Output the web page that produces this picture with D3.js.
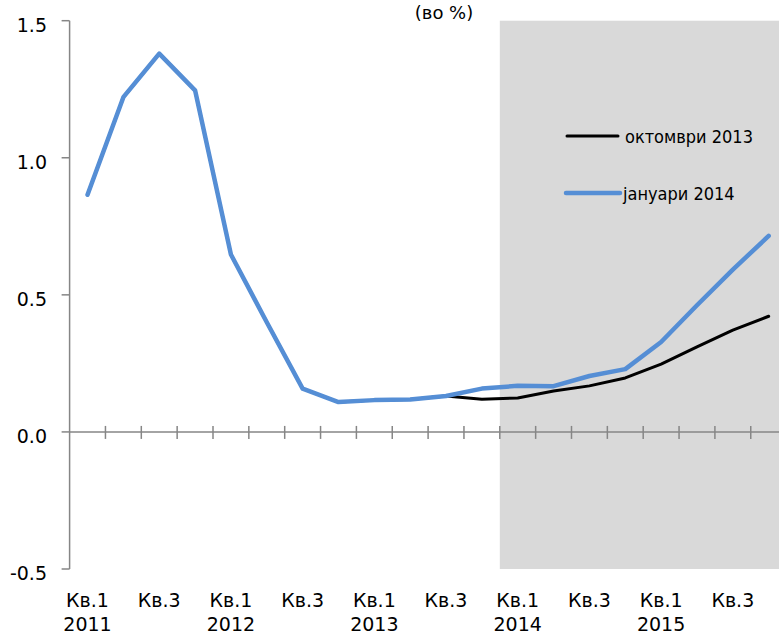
<!DOCTYPE html>
<html>
<head>
<meta charset="utf-8">
<script src="https://cdn.jsdelivr.net/npm/d3@7"></script>
<style>
  html, body { margin: 0; padding: 0; background: #fff; }
  svg { display: block; }
</style>
</head>
<body>
<svg id="chart" width="779" height="635"></svg>
<script>
// ---- data ----
const quarters = ["2011Q1","2011Q2","2011Q3","2011Q4","2012Q1","2012Q2","2012Q3","2012Q4",
                  "2013Q1","2013Q2","2013Q3","2013Q4","2014Q1","2014Q2","2014Q3","2014Q4",
                  "2015Q1","2015Q2","2015Q3","2015Q4"];
const quarterLabels = ["Кв.1","","Кв.3","","Кв.1","","Кв.3","","Кв.1","","Кв.3","",
                       "Кв.1","","Кв.3","","Кв.1","","Кв.3",""];
const yearLabels = ["2011","","","","2012","","","","2013","","","","2014","","","","2015","","",""];
const october2013 = [0.865, 1.221, 1.380, 1.246, 0.647, 0.400, 0.158, 0.109, 0.116, 0.118,
                     0.131, 0.119, 0.124, 0.149, 0.168, 0.197, 0.247, 0.310, 0.371, 0.422];
const january2014 = [0.865, 1.221, 1.380, 1.246, 0.647, 0.400, 0.158, 0.109, 0.116, 0.118,
                     0.131, 0.158, 0.168, 0.167, 0.204, 0.229, 0.328, 0.462, 0.592, 0.715];
const seriesNames = ["октомври 2013", "јануари 2014"];
const yTicks = [-0.5, 0.0, 0.5, 1.0, 1.5];
const yTickLabels = ["-0.5", "0.0", "0.5", "1.0", "1.5"];
const forecastStart = "2014Q1";
const title = "(во %)";

// ---- layout ----
const svg = d3.select("#chart");
const W = 779, H = 635;
const x0 = 69.6, step = 35.85;
const x = d3.scaleBand().domain(quarters).range([x0, x0 + step * quarters.length]).padding(0);
const y = d3.scaleLinear().domain([-0.5, 1.5]).range([569, 20.7]);
const axisColor = "#868686";
const axisFont = "'DejaVu Sans', Verdana, sans-serif";
const legendFont = "'DejaVu Sans Condensed', 'DejaVu Sans', sans-serif";

// shaded forecast region
svg.append("rect")
  .attr("x", x(forecastStart))
  .attr("y", y(1.5))
  .attr("width", W - x(forecastStart))
  .attr("height", y(-0.5) - y(1.5))
  .attr("fill", "#d9d9d9");

// title
svg.append("text")
  .attr("x", 444).attr("y", 19)
  .attr("text-anchor", "middle")
  .attr("font-family", axisFont)
  .attr("font-size", 18)
  .attr("fill", "#000")
  .text(title);

// y axis
const yAxis = svg.append("g");
yAxis.append("line")
  .attr("x1", x0).attr("x2", x0)
  .attr("y1", y(1.5)).attr("y2", y(-0.5))
  .attr("stroke", axisColor).attr("stroke-width", 1.5);
yTicks.forEach((t, i) => {
  yAxis.append("line")
    .attr("x1", x0 - 8).attr("x2", x0)
    .attr("y1", y(t)).attr("y2", y(t))
    .attr("stroke", axisColor).attr("stroke-width", 1.5);
  yAxis.append("text")
    .attr("x", 47).attr("y", y(t) + 11)
    .attr("text-anchor", "end")
    .attr("font-family", axisFont)
    .attr("font-size", 19)
    .attr("fill", "#000")
    .text(yTickLabels[i]);
});

// x axis at zero
const xAxis = svg.append("g");
xAxis.append("line")
  .attr("x1", x0).attr("x2", W)
  .attr("y1", y(0)).attr("y2", y(0))
  .attr("stroke", axisColor).attr("stroke-width", 1.5);
quarters.forEach((q, i) => {
  if (i === 0) return;
  xAxis.append("line")
    .attr("x1", x(q)).attr("x2", x(q))
    .attr("y1", y(0) - 6).attr("y2", y(0) + 7)
    .attr("stroke", axisColor).attr("stroke-width", 1.5);
});
quarters.forEach((q, i) => {
  const cx = x(q) + x.bandwidth() / 2;
  if (quarterLabels[i]) {
    xAxis.append("text")
      .attr("x", cx).attr("y", 607)
      .attr("text-anchor", "middle")
      .attr("font-family", axisFont).attr("font-size", 19)
      .attr("fill", "#000")
      .text(quarterLabels[i]);
  }
  if (yearLabels[i]) {
    xAxis.append("text")
      .attr("x", cx).attr("y", 631)
      .attr("text-anchor", "middle")
      .attr("font-family", axisFont).attr("font-size", 19)
      .attr("fill", "#000")
      .text(yearLabels[i]);
  }
});

// lines
const line = d3.line()
  .x((d, i) => x(quarters[i]) + x.bandwidth() / 2)
  .y(d => y(d));

svg.append("path")
  .datum(october2013)
  .attr("d", line)
  .attr("fill", "none")
  .attr("stroke", "#000")
  .attr("stroke-width", 3)
  .attr("stroke-linejoin", "round")
  .attr("stroke-linecap", "round");

svg.append("path")
  .datum(january2014)
  .attr("d", line)
  .attr("fill", "none")
  .attr("stroke", "#558ed5")
  .attr("stroke-width", 4.5)
  .attr("stroke-linejoin", "round")
  .attr("stroke-linecap", "round");

// legend
const legend = svg.append("g");
const legendItems = [
  { name: seriesNames[0], color: "#000", width: 3, x1: 567, x2: 618, y: 136, tx: 625 },
  { name: seriesNames[1], color: "#558ed5", width: 4.5, x1: 566, x2: 620, y: 193, tx: 623 }
];
legendItems.forEach(it => {
  legend.append("line")
    .attr("x1", it.x1).attr("x2", it.x2)
    .attr("y1", it.y).attr("y2", it.y)
    .attr("stroke", it.color).attr("stroke-width", it.width)
    .attr("stroke-linecap", "round");
  legend.append("text")
    .attr("x", it.tx).attr("y", it.y + 6.5)
    .attr("font-family", legendFont).attr("font-size", 18)
    .attr("fill", "#000")
    .text(it.name);
});
</script>
</body>
</html>
